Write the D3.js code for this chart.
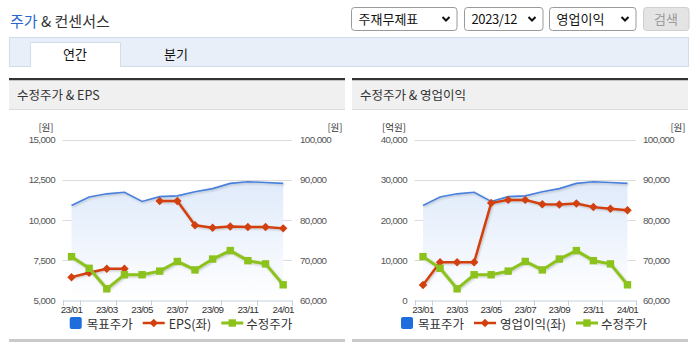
<!DOCTYPE html>
<html><head><meta charset="utf-8">
<script src="https://cdn.jsdelivr.net/npm/d3@7"></script>
<style>
html,body{margin:0;padding:0;background:#fff;}
svg{display:block;}
.kr{font-family:"Noto Sans CJK KR","Noto Sans",sans-serif;}
.num{font-family:"Liberation Sans",Arial,sans-serif;letter-spacing:-0.6px;}
</style></head>
<body>
<svg id="c" width="695" height="349"></svg>
<script>
// ---- data ----
const months = ["23/01","23/02","23/03","23/04","23/05","23/06","23/07","23/08","23/09","23/10","23/11","23/12","24/01"];
const targetPrice = [83600, 85700, 86500, 86900, 84600, 85800, 86000, 87000, 87800, 89100, 89500, 89300, 89100];
const adjPrice = [70900, 68000, 62900, 66400, 66400, 67300, 69700, 67600, 70300, 72400, 69900, 69100, 63900];
const eps = [6450, 6720, 6970, 6970, null, 11180, 11180, 9670, 9520, 9590, 9560, 9560, 9480];
const opProfit = [3860, 9500, 9500, 9500, 24200, 25000, 25000, 23900, 23850, 24100, 23200, 22800, 22400];
const xTickLabels = ["23/01","23/03","23/05","23/07","23/09","23/11","24/01"];
const epsTicks = [5000, 7500, 10000, 12500, 15000];
const opTicks = [0, 10000, 20000, 30000, 40000];
const priceTicks = [60000, 70000, 80000, 90000, 100000];
const selectLabels = ["주재무제표","2023/12","영업이익"];
const tabLabels = ["연간","분기"];
const panelTitles = ["수정주가 & EPS","수정주가 & 영업이익"];

const C = {blue:"#4a80dc", fillTop:"#dfeafa", red:"#d2400f", green:"#8cc21c", legendBlue:"#1f6cdc",
  grid:"#dcdcdc", axis:"#c3d0df", text:"#555"};

const svg = d3.select("#c");
const defs = svg.append("defs");
const sh = defs.append("filter").attr("id","shadow").attr("x","-10%").attr("y","-10%").attr("width","130%").attr("height","140%");
sh.append("feDropShadow").attr("dx",1).attr("dy",1).attr("stdDeviation",1).attr("flood-color","#000").attr("flood-opacity",0.22);
const gr = defs.append("linearGradient").attr("id","areaGrad").attr("x1",0).attr("y1",0).attr("x2",0).attr("y2",1);
gr.append("stop").attr("offset","0%").attr("stop-color",C.fillTop).attr("stop-opacity",1);
gr.append("stop").attr("offset","100%").attr("stop-color","#ffffff").attr("stop-opacity",1);

// ---- header ----
const title = svg.append("text").attr("class","kr").attr("x",10).attr("y",27).attr("font-size",15);
title.append("tspan").attr("fill","#2b66d0").text("주가");
title.append("tspan").attr("fill","#333").text(" & 컨센서스");

const selBoxes = [[351.5,457],[464.5,543],[549.5,636]];
selBoxes.forEach((b,i)=>{
  svg.append("rect").attr("x",b[0]).attr("y",7.5).attr("width",b[1]-b[0]).attr("height",23).attr("rx",3)
    .attr("fill","#fff").attr("stroke","#9a9a9a");
  const t = svg.append("text").attr("class", "kr").attr("x",b[0]+7).attr("y",24).attr("font-size",13)
    .attr("fill","#111").text(selectLabels[i]);
  if(i===1) t.attr("font-family","Liberation Sans, Arial, sans-serif").attr("letter-spacing","-0.4px");
  const cx=b[1]-11, cy=19;
  svg.append("path").attr("d",`M${cx-3.5},${cy-2} L${cx},${cy+1.5} L${cx+3.5},${cy-2}`).attr("fill","none")
    .attr("stroke","#111").attr("stroke-width",2);
});
svg.append("rect").attr("x",643.5).attr("y",7.5).attr("width",45.5).attr("height",23).attr("rx",3)
  .attr("fill","#e4e4e4").attr("stroke","#cfcfcf");
svg.append("text").attr("class","kr").attr("x",666).attr("y",24).attr("text-anchor","middle").attr("font-size",13)
  .attr("fill","#9a9a9a").text("검색");

// tabs
svg.append("rect").attr("x",9.5).attr("y",37.5).attr("width",679).attr("height",29).attr("fill","#e8eff9").attr("stroke","#d3dce8");
svg.append("rect").attr("x",30).attr("y",42.5).attr("width",90).attr("height",25).attr("fill","#fff");
svg.append("path").attr("d","M30.5,67 V42.5 H120.5 V67").attr("fill","none").attr("stroke","#d3dce8");
svg.append("text").attr("class","kr").attr("x",75).attr("y",59).attr("text-anchor","middle").attr("font-size",13).attr("fill","#111").text(tabLabels[0]);
svg.append("text").attr("class","kr").attr("x",176).attr("y",59).attr("text-anchor","middle").attr("font-size",13).attr("fill","#111").text(tabLabels[1]);

// ---- panels ----
const panels = [{x0:9,x1:345,px0:62.7,px1:292,lx:55,rx:300,unitL:"[원]",unitLx:46,unitRx:335,
                 left:eps,leftTicks:epsTicks,leftName:"EPS(좌)",legendC:181},
                {x0:352,x1:688,px0:414.5,px1:636,lx:407,rx:643,unitL:"[억원]",unitLx:394,unitRx:678,
                 left:opProfit,leftTicks:opTicks,leftName:"영업이익(좌)",legendC:524}];
const plotTop=139.5, plotBottom=300.5;

panels.forEach((p,pi)=>{
  svg.append("rect").attr("x",p.x0).attr("y",78).attr("width",p.x1-p.x0).attr("height",2.5).attr("fill","#333");
  svg.append("rect").attr("x",p.x0).attr("y",80.5).attr("width",p.x1-p.x0).attr("height",28.5).attr("fill","#f0f0f0");
  svg.append("rect").attr("x",p.x0).attr("y",109).attr("width",p.x1-p.x0).attr("height",1).attr("fill","#dcdcdc");
  svg.append("text").attr("class","kr").attr("x",p.x0+8).attr("y",99.5).attr("font-size",12.5).attr("fill","#333").text(panelTitles[pi]);
  svg.append("rect").attr("x",p.x0).attr("y",339).attr("width",p.x1-p.x0).attr("height",3).attr("fill","#cacaca");

  const x = d3.scaleBand().domain(months).range([p.px0,p.px1]);
  const cx = d=>x(d)+x.bandwidth()/2;
  const yL = d3.scaleLinear().domain(d3.extent(p.leftTicks)).range([plotBottom,plotTop]);
  const yR = d3.scaleLinear().domain(d3.extent(priceTicks)).range([plotBottom,plotTop]);

  // grid
  svg.append("g").selectAll("line").data(p.leftTicks.slice(1)).join("line")
    .attr("x1",p.px0).attr("x2",p.px1).attr("y1",d=>Math.round(yL(d))+0.5).attr("y2",d=>Math.round(yL(d))+0.5)
    .attr("stroke",C.grid).attr("stroke-width",1);

  // axes labels
  const gL = svg.append("g").attr("transform",`translate(${p.lx},0)`)
    .call(d3.axisLeft(yL).tickValues(p.leftTicks).tickSize(0).tickPadding(0).tickFormat(d3.format(",")));
  gL.select(".domain").remove();
  gL.selectAll("text").attr("class","num").attr("font-size",9.8).attr("fill",C.text).attr("dy","0.32em");
  const gR = svg.append("g").attr("transform",`translate(${p.rx},0)`)
    .call(d3.axisRight(yR).tickValues(priceTicks).tickSize(0).tickPadding(0).tickFormat(d3.format(",")));
  gR.select(".domain").remove();
  gR.selectAll("text").attr("class","num").attr("font-size",9.8).attr("fill",C.text).attr("dy","0.32em");

  svg.append("text").attr("class","kr").attr("x",p.unitLx).attr("y",130.5).attr("text-anchor","middle").attr("font-size",9.5).attr("fill","#333").text(p.unitL);
  svg.append("text").attr("class","kr").attr("x",p.unitRx).attr("y",130.5).attr("text-anchor","middle").attr("font-size",9.5).attr("fill","#333").text("[원]");

  // area + target line
  const area = d3.area().x((d,i)=>cx(months[i])).y0(plotBottom).y1(d=>yR(d));
  svg.append("path").datum(targetPrice).attr("d",area).attr("fill","url(#areaGrad)");
  const lineR = d3.line().x((d,i)=>cx(months[i])).y(d=>yR(d));
  svg.append("path").datum(targetPrice).attr("d",lineR).attr("fill","none").attr("stroke",C.blue).attr("stroke-width",1.6).attr("filter","url(#shadow)");

  // x axis
  const gX = svg.append("g").attr("transform",`translate(0,${plotBottom})`);
  gX.append("line").attr("x1",p.px0).attr("x2",p.px1).attr("y1",0.5).attr("y2",0.5).attr("stroke",C.axis);
  const tickPos = [0,1,3,5,7,9,11,13].map(k=>p.px0+k*x.step());
  gX.selectAll("line.t").data(tickPos).join("line").attr("class","t")
    .attr("x1",d=>Math.round(d)+0.5).attr("x2",d=>Math.round(d)+0.5).attr("y1",0).attr("y2",5).attr("stroke",C.axis);
  gX.selectAll("text").data(xTickLabels).join("text").attr("class","num")
    .attr("x",d=>cx(d)).attr("y",12).attr("text-anchor","middle").attr("font-size",9.8).attr("fill","#333").text(d=>d);

  // left series (red)
  const lineL = d3.line().defined(d=>d!==null).x((d,i)=>cx(months[i])).y(d=>yL(d));
  svg.append("path").datum(p.left).attr("d",lineL).attr("fill","none").attr("stroke",C.red).attr("stroke-width",2.5).attr("stroke-linejoin","round").attr("filter","url(#shadow)");
  const diamond = d3.symbol().type(d3.symbolDiamond2).size(46);
  svg.append("g").selectAll("path").data(p.left.map((v,i)=>[v,i]).filter(d=>d[0]!==null)).join("path")
    .attr("transform",d=>`translate(${cx(months[d[1]])},${yL(d[0])})`).attr("d",diamond).attr("fill",C.red);

  // adjusted price (green)
  svg.append("path").datum(adjPrice).attr("d",lineR).attr("fill","none").attr("stroke",C.green).attr("stroke-width",3).attr("stroke-linejoin","round").attr("filter","url(#shadow)");
  svg.append("g").selectAll("rect").data(adjPrice).join("rect")
    .attr("x",(d,i)=>cx(months[i])-3.7).attr("y",d=>yR(d)-3.7).attr("width",7.4).attr("height",7.4).attr("fill",C.green);

  // legend
  const lg = svg.append("g");
  const items = [{t:"목표주가",k:"sq"},{t:p.leftName,k:"dia"},{t:"수정주가",k:"box"}];
  let cur = 0; const ly=323;
  items.forEach(it=>{
    const g = lg.append("g").attr("transform",`translate(${cur},0)`);
    let sw;
    if(it.k==="sq"){ g.append("rect").attr("x",0).attr("y",ly-6).attr("width",12).attr("height",12).attr("rx",2).attr("fill",C.legendBlue); sw=17; }
    else if(it.k==="dia"){ g.append("line").attr("x1",0).attr("x2",22).attr("y1",ly).attr("y2",ly).attr("stroke",C.red).attr("stroke-width",2.5);
      g.append("path").attr("transform",`translate(11,${ly})`).attr("d",diamond).attr("fill",C.red); sw=26; }
    else { g.append("line").attr("x1",0).attr("x2",22).attr("y1",ly).attr("y2",ly).attr("stroke",C.green).attr("stroke-width",3);
      g.append("rect").attr("x",7.3).attr("y",ly-3.7).attr("width",7.4).attr("height",7.4).attr("fill",C.green); sw=25; }
    const t = g.append("text").attr("class","kr").attr("x",sw).attr("y",ly+6).attr("font-size",12.5).attr("fill","#333").text(it.t);
    cur += sw + t.node().getComputedTextLength() + 10;
  });
  const w = cur-10;
  lg.attr("transform",`translate(${p.legendC - w/2},0)`);
});
</script>
</body></html>
